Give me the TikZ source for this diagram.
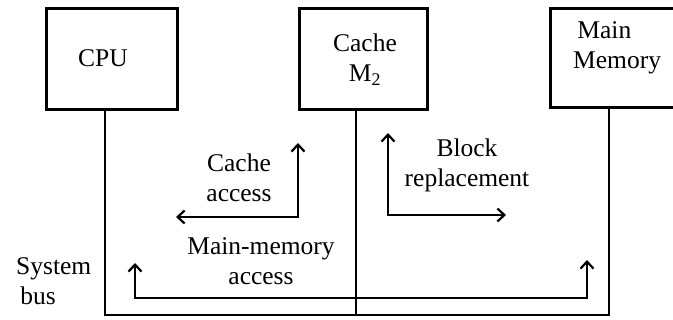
\documentclass[tikz,border=0pt]{standalone}
\usepackage{fontspec}
\setmainfont{Liberation Serif}
\usetikzlibrary{arrows.meta}
\begin{document}
\begin{tikzpicture}[x=1pt,y=-1pt,
  unit/.style={draw,line width=3pt,minimum height=101pt,inner sep=0pt},
  label/.style={font=\fontsize{25.5}{30}\selectfont,align=center,inner sep=0pt},
  bus/.style={line width=2.5pt},
  flow/.style={line width=2.5pt,{Straight Barb[length=7pt,width=13pt,line width=2.2pt]}-{Straight Barb[length=7pt,width=13pt,line width=2.2pt]}}]
\useasboundingbox (0,0) rectangle (673,320);
\clip (0,0) rectangle (673,320);
\fill[white] (0,0) rectangle (673,320);

% functional units
\node[unit,minimum width=131pt] (cpu) at (111.5,59.5) {};
\node[unit,minimum width=128pt] (cache) at (363,59.5) {};
\node[unit,minimum width=150pt,minimum height=99pt] (mm) at (625,58.5) {};
\node[label] (cputext) at (103,58) {CPU};
\node[label] (cachetext) at (365,60) {Cache\\M\textsubscript{2}};
\node[label,align=left,anchor=west] (mmtext) at (573,48) {\,Main\\Memory};

% system bus
\coordinate (b-cpu) at (105,315);
\coordinate (b-cache) at (356,315);
\coordinate (b-mm) at (609,315);
\draw[bus] (b-cpu |- cpu.south) -- (b-cpu) -- (b-mm) -- (b-mm |- mm.south);
\draw[bus] (b-cache |- cache.south) -- (b-cache);
\node[label,align=left,anchor=west] (bustext) at (16,281) {System\\\,bus};

% cache access
\coordinate (ca-a) at (176,217);
\coordinate (ca-c) at (298,217);
\coordinate (ca-b) at (298,143);
\draw[flow] (ca-a) -- (ca-c) -- (ca-b);
\node[label] (catext) at (239,178) {Cache\\access};

% block replacement
\coordinate (br-a) at (388,133);
\coordinate (br-c) at (388,215);
\coordinate (br-b) at (506,215);
\draw[flow] (br-a) -- (br-c) -- (br-b);
\node[label] (brtext) at (467,165) {Block\\replacement};

% main-memory access
\coordinate (ma-a) at (135,263);
\coordinate (ma-c1) at (135,298);
\coordinate (ma-c2) at (587,298);
\coordinate (ma-b) at (587,260);
\draw[flow] (ma-a) -- (ma-c1) -- (ma-c2) -- (ma-b);
\node[label] (matext) at (261,261.5) {Main-memory\\access};
\end{tikzpicture}
\end{document}
